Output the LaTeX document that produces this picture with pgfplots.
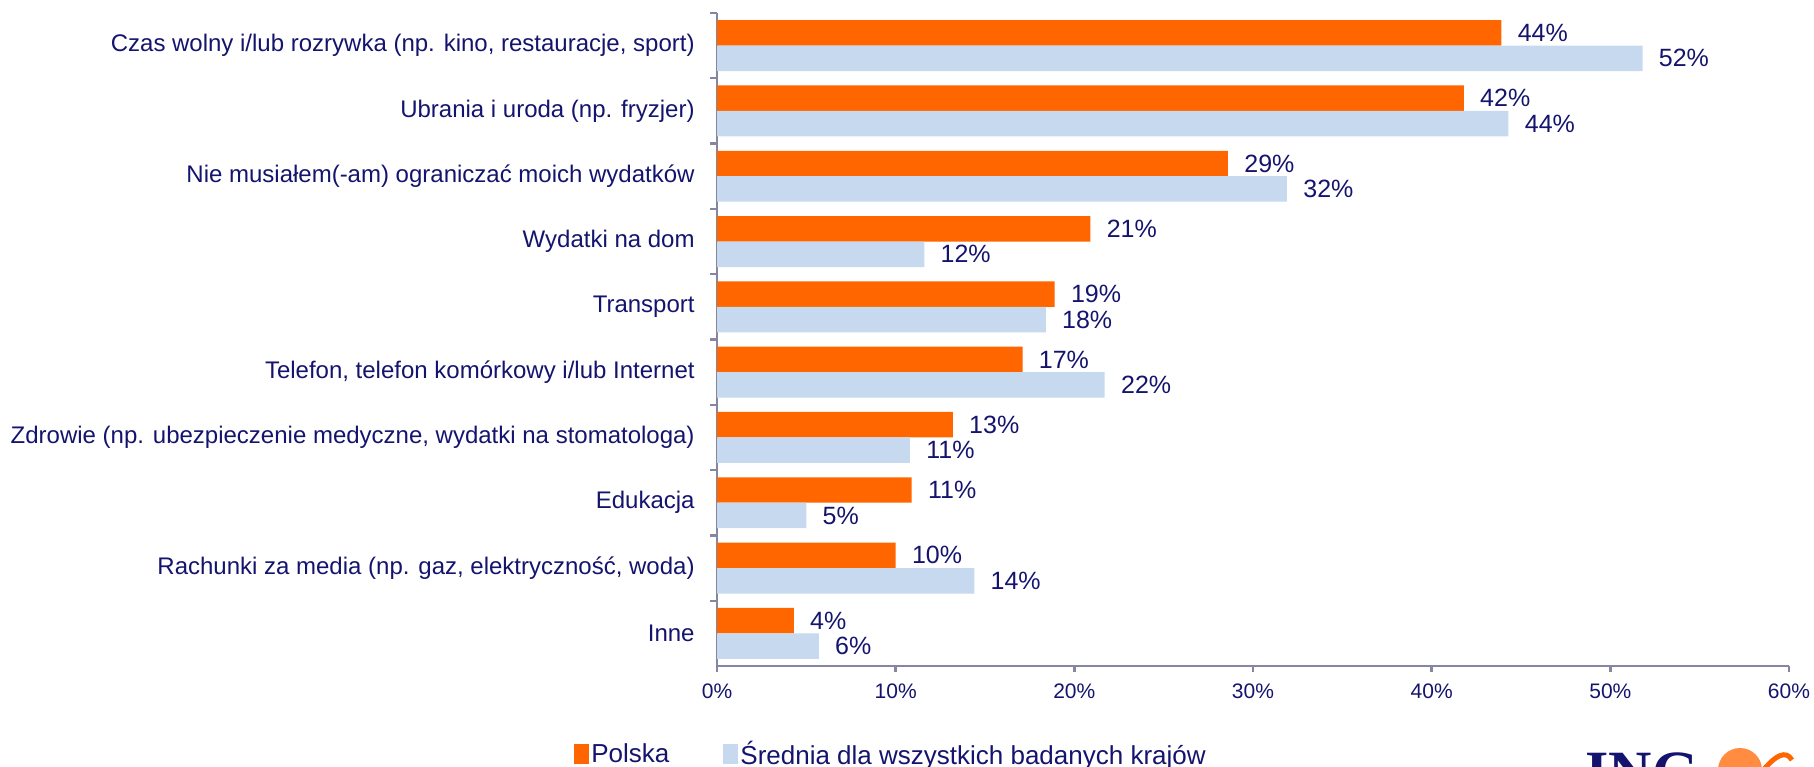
\documentclass[border=0pt]{standalone}
\usepackage{fontspec}
\setmainfont{Liberation Sans}
\newfontfamily\ingfont{Liberation Serif}
\usepackage{pgfplots}
\pgfplotsset{compat=1.18}
\definecolor{ingorange}{RGB}{255,102,0}
\definecolor{lightblue}{RGB}{198,217,238}
\definecolor{navy}{RGB}{20,20,110}
\definecolor{axisgray}{RGB}{134,134,160}
\begin{document}
\begin{tikzpicture}
\useasboundingbox (0pt,0pt) rectangle (907pt,383pt);
\begin{axis}[
  at={(358.5pt,50pt)}, anchor=south west,
  width=536pt, height=326.5pt, scale only axis,
  xbar, bar width=0.39,
  xmin=0, xmax=60, ymin=-0.5, ymax=9.5,
  axis x line*=bottom, axis y line*=left,
  axis line style={axisgray, line width=1.2pt},
  tick align=outside,
  xtick={0,10,...,60},
  xticklabel={\pgfmathprintnumber{\tick}\%},
  /pgf/number format/assume math mode=true,
  xtick style={axisgray, line width=1.2pt},
  major tick length=3pt,
  minor tick length=3.5pt,
  xticklabel style={font=\fontsize{10.5}{12}\selectfont, text=navy, inner sep=0pt, yshift=-5.5pt},
  ytick={0,...,9},
  yticklabels={Inne,
    {Rachunki za media (np. gaz, elektryczność, woda)},
    Edukacja,
    {Zdrowie (np. ubezpieczenie medyczne, wydatki na stomatologa)},
    {Telefon, telefon komórkowy i/lub Internet},
    Transport,
    Wydatki na dom,
    Nie musiałem(-am) ograniczać moich wydatków,
    Ubrania i uroda (np. fryzjer),
    {Czas wolny i/lub rozrywka (np. kino, restauracje, sport)}},
  major y tick style={draw=none},
  minor ytick={0.5,1.5,...,9.5},
  minor y tick style={axisgray, line width=1.2pt},
  yticklabel style={font=\fontsize{12}{14}\selectfont, text=navy, inner sep=0pt, xshift=-8pt},
  nodes near coords={\pgfmathprintnumber[fixed,precision=0]{\pgfplotspointmeta}\%},
  nodes near coords style={font=\fontsize{12.5}{14}\selectfont, text=navy, anchor=west, inner sep=0pt, xshift=8pt},
  legend columns=2,
  legend style={at={(-0.139,-0.135)}, anchor=west, draw=none, fill=none,
    font=\fontsize{13}{15}\selectfont, text=navy,
    /tikz/every even column/.append style={column sep=26pt},
    nodes={inner sep=1pt}},
  legend image code/.code={\fill[#1] (0pt,-5pt) rectangle (7.5pt,5pt);},
]
\addplot[fill=ingorange, draw=none, bar shift=0.195] coordinates {
  (43.9,9) (41.8,8) (28.6,7) (20.9,6) (18.9,5) (17.1,4) (13.2,3) (10.9,2) (10.0,1) (4.3,0)};
\addplot[fill=lightblue, draw=none, bar shift=-0.195] coordinates {
  (51.8,9) (44.3,8) (31.9,7) (11.6,6) (18.4,5) (21.7,4) (10.8,3) (5.0,2) (14.4,1) (5.7,0)};
\legend{Polska, Średnia dla wszystkich badanych krajów}
\end{axis}
\node[anchor=base west, inner sep=0pt, text=navy, font=\ingfont\bfseries\fontsize{30}{30}\selectfont] at (792.5pt,-13pt) {ING};
\fill[ingorange!75] (870pt,-2pt) circle (11pt);
\draw[ingorange, line width=2.5pt] (880pt,-4pt) .. controls (888pt,6pt) and (893pt,8pt) .. (896pt,3pt);
\end{tikzpicture}
\end{document}
